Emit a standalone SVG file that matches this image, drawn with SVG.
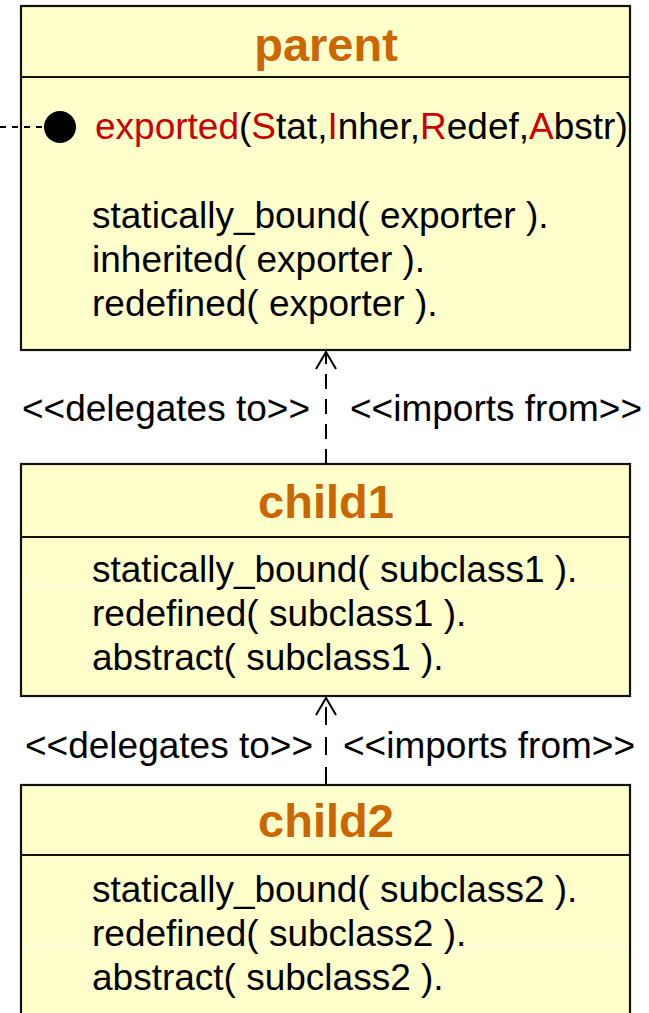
<svg xmlns="http://www.w3.org/2000/svg" width="649" height="1013" viewBox="0 0 649 1013">
  <style>
    .box { fill: #ffffcc; stroke: #111; stroke-width: 2.2; }
    .div { stroke: #111; stroke-width: 2.2; }
    .title { font-family: "Liberation Sans", Arial, sans-serif; font-weight: bold; font-size: 47px; fill: #cc6600; text-anchor: middle; }
    .body { font-family: "Liberation Sans", Arial, sans-serif; font-size: 37px; fill: #000; }
    .red { fill: #cc0000; }
    .lbl { font-family: "Liberation Sans", Arial, sans-serif; font-size: 37px; fill: #000; }
    .dep { stroke: #000; stroke-width: 2; fill: none; }
    .seam { stroke: #ffffff; stroke-width: 1; }
  </style>
  <defs>
    <!-- open "V" arrowhead; points along the line direction -->
    <marker id="openArrow" markerWidth="20" markerHeight="22" refX="18" refY="11" orient="auto" markerUnits="userSpaceOnUse" viewBox="0 0 20 22">
      <path d="M1,1 L18,11 L1,21" fill="none" stroke="#000" stroke-width="2"/>
    </marker>
  </defs>

  <rect width="649" height="1013" fill="#ffffff"/>

  <!-- parent class -->
  <g id="parent">
    <rect class="box" x="21" y="6" width="609" height="344"/>
    <line class="div" x1="21" y1="77" x2="630" y2="77"/>
    <text class="title" x="326" y="61">parent</text>
    <line x1="0" y1="127" x2="46" y2="127" stroke="#000" stroke-width="2" stroke-dasharray="6,6"/>
    <circle cx="60" cy="127" r="16" fill="#000"/>
    <text class="body" x="95" y="139"><tspan class="red">exported</tspan>(<tspan class="red">S</tspan>tat,<tspan class="red">I</tspan>nher,<tspan class="red">R</tspan>edef,<tspan class="red">A</tspan>bstr)</text>
    <text class="body" x="92" y="228">statically_bound( exporter ).</text>
    <text class="body" x="92" y="272">inherited( exporter ).</text>
    <text class="body" x="92" y="316">redefined( exporter ).</text>
  </g>

  <!-- child1 class -->
  <g id="child1">
    <rect class="box" x="21" y="464" width="609" height="232"/>
    <line class="div" x1="21" y1="537" x2="630" y2="537"/>
    <text class="title" x="326" y="518">child1</text>
    <line class="seam" x1="22" y1="587" x2="629" y2="587"/>
    <text class="body" x="92" y="582">statically_bound( subclass1 ).</text>
    <text class="body" x="92" y="626">redefined( subclass1 ).</text>
    <text class="body" x="92" y="670">abstract( subclass1 ).</text>
  </g>

  <!-- child2 class -->
  <g id="child2">
    <rect class="box" x="21" y="785" width="609" height="240"/>
    <line class="div" x1="21" y1="855" x2="630" y2="855"/>
    <text class="title" x="326" y="837">child2</text>
    <line class="seam" x1="22" y1="947" x2="629" y2="947"/>
    <text class="body" x="92" y="902">statically_bound( subclass2 ).</text>
    <text class="body" x="92" y="946">redefined( subclass2 ).</text>
    <text class="body" x="92" y="990">abstract( subclass2 ).</text>
  </g>

  <!-- dependencies: child1 -> parent, child2 -> child1 -->
  <g id="connectors">
    <line class="dep" x1="326" y1="464" x2="326" y2="352" stroke-dasharray="15,10" marker-end="url(#openArrow)"/>
    <text class="lbl" x="22" y="421">&lt;&lt;delegates to&gt;&gt;</text>
    <text class="lbl" x="350" y="421">&lt;&lt;imports from&gt;&gt;</text>

    <line class="dep" x1="326" y1="785" x2="326" y2="698" stroke-dasharray="18,12" marker-end="url(#openArrow)"/>
    <text class="lbl" x="25" y="758">&lt;&lt;delegates to&gt;&gt;</text>
    <text class="lbl" x="343" y="758">&lt;&lt;imports from&gt;&gt;</text>
  </g>
</svg>
